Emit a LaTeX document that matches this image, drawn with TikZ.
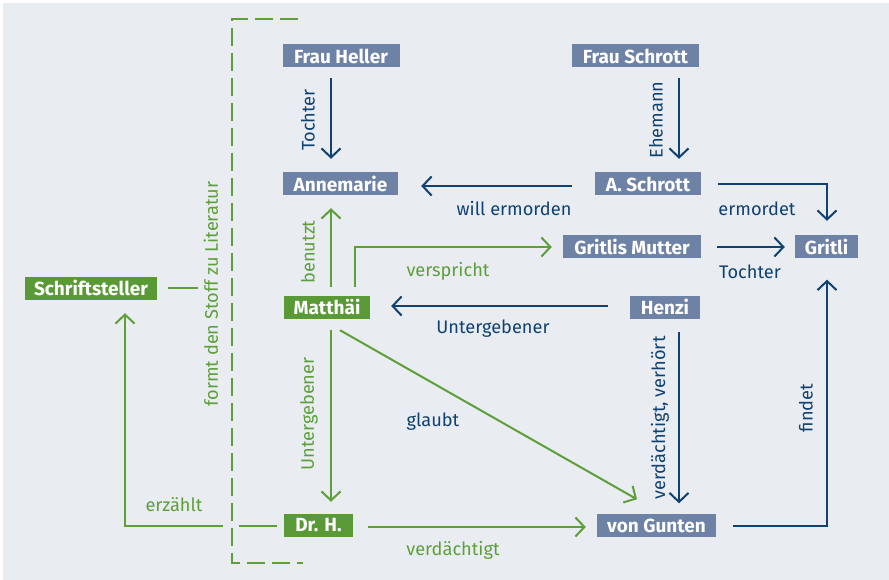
\documentclass[tikz,border=0pt]{standalone}
\usepackage{fontspec}
\setmainfont{Fira Sans}
\usetikzlibrary{arrows.meta,calc}
\definecolor{bgc}{HTML}{E9ECF1}
\definecolor{boxblue}{HTML}{6E82A6}
\definecolor{boxgreen}{HTML}{5A9A36}
\definecolor{lineblue}{HTML}{0F4272}
\definecolor{linegreen}{HTML}{5DA03A}
\begin{document}
\begin{tikzpicture}[x=1pt,y=-1pt,
  box/.style={rectangle, inner xsep=2pt, inner ysep=0pt, minimum height=23pt,
    text=white, font=\bfseries\fontsize{19}{22}\selectfont},
  bbox/.style={box, fill=boxblue},
  gbox/.style={box, fill=boxgreen},
  lbl/.style={inner sep=0pt, font=\fontsize{18.2}{21}\selectfont},
  blbl/.style={lbl, text=lineblue},
  glbl/.style={lbl, text=linegreen},
  arr/.style={line width=2pt, -{Straight Barb[length=9pt,width=19pt]}},
  barr/.style={arr, draw=lineblue},
  garr/.style={arr, draw=linegreen},
  gline/.style={line width=2pt, draw=linegreen},
  bracket/.style={line width=2pt, draw=linegreen, dash pattern=on 18pt off 7pt}
]
\fill[white] (0,0) rectangle (889,580);
\fill[bgc] (3,3) rectangle (889,580);
\useasboundingbox (0,0) rectangle (889,580);

% nodes
\node[bbox, minimum width=117pt] (fh) at (341,56) {Frau Heller};
\node[bbox, minimum width=115pt] (an) at (340.5,184) {Annemarie};
\node[bbox, minimum width=127pt] (fs) at (635.5,56) {Frau Schrott};
\node[bbox, minimum width=106pt] (as) at (648,184) {A. Schrott};
\node[bbox, minimum width=138pt] (gm) at (632,246.5) {Gritlis Mutter};
\node[bbox, minimum width=63pt] (gr) at (826.5,246.5) {Gritli};
\node[bbox, minimum width=70pt] (hz) at (665,307) {Henzi};
\node[gbox, minimum width=86pt] (ma) at (327,307) {Matthäi};
\node[gbox, minimum width=132pt] (sc) at (91,288) {Schriftsteller};
\node[gbox, minimum width=69pt] (dr) at (318.5,525) {Dr. H.};
\node[bbox, minimum width=119pt] (vg) at (656.5,525.5) {von Gunten};

% blue connectors
\draw[barr] ($(fh.south)+(-10,10.5)$) -- ($(an.north)+(-9.5,-13.5)$);
\draw[barr] ($(fs.south)+(43.5,10.5)$) -- ($(as.north)+(31,-13.5)$);
\draw[barr] ($(as.west)+(-23,2)$) -- ($(an.east)+(23,2)$);
\draw[barr] ($(as.east)+(17,0)$) -| ($(gr.north)+(0.5,-14)$);
\draw[barr] ($(gm.east)+(16,0.5)$) -- ($(gr.west)+(-10,0.5)$);
\draw[barr] ($(hz.west)+(-22,-1)$) -- ($(ma.east)+(21,-1)$);
\draw[barr] ($(hz.south)+(14,13.5)$) -- ($(vg.north)+(22.5,-10.5)$);
\draw[barr] ($(vg.east)+(17,0)$) -| ($(gr.south)+(0.5,21.5)$);

% green connectors
\draw[garr] ($(ma.north)+(4,-8.5)$) -- ($(an.south)+(-9.5,12.5)$);
\draw[garr] ($(ma.north)+(28,-8.5)$) |- ($(gm.west)+(-11,0.5)$);
\draw[garr] ($(ma.south)+(4,11.5)$) -- ($(dr.north)+(12.5,-11.5)$);
\draw[garr] ($(ma.south)+(13,11.5)$) -- ($(vg.north)+(-19.5,-14.5)$);
\draw[garr] ($(dr.east)+(15,2)$) -- ($(vg.west)+(-11,1.5)$);
\draw[garr] ($(dr.west)+(-7,1)$) -| ($(sc.south)+(34,13.5)$);
\draw[line width=4pt, draw=bgc] (222.5,526) -- (238.5,526);
\draw[gline] ($(sc.east)+(11,0)$) -- ($(sc.east)+(41,0)$);

% dashed bracket
\draw[bracket] (298,19) -- (232,19) -- (232,563) -- (303,563);

% labels
\node[blbl, rotate=90] at (308,120) {Tochter};
\node[blbl, rotate=90] at (656,120) {Ehemann};
\node[blbl] at (514,209) {will ermorden};
\node[blbl] at (757,209) {ermordet};
\node[blbl] at (750,271.5) {Tochter};
\node[glbl] at (448,271.5) {verspricht};
\node[glbl, rotate=90] at (308,252) {benutzt};
\node[blbl] at (493,329) {Untergebener};
\node[glbl, rotate=90] at (309,414) {Untergebener};
\node[blbl] at (433,422) {glaubt};
\node[blbl, rotate=90] at (660,418) {verdächtigt, verhört};
\node[blbl, rotate=90] at (806,408) {findet};
\node[glbl] at (453,550) {verdächtigt};
\node[glbl] at (174,504.5) {erzählt};
\node[glbl, rotate=90] at (211,294) {formt den Stoff zu Literatur};
\end{tikzpicture}
\end{document}
